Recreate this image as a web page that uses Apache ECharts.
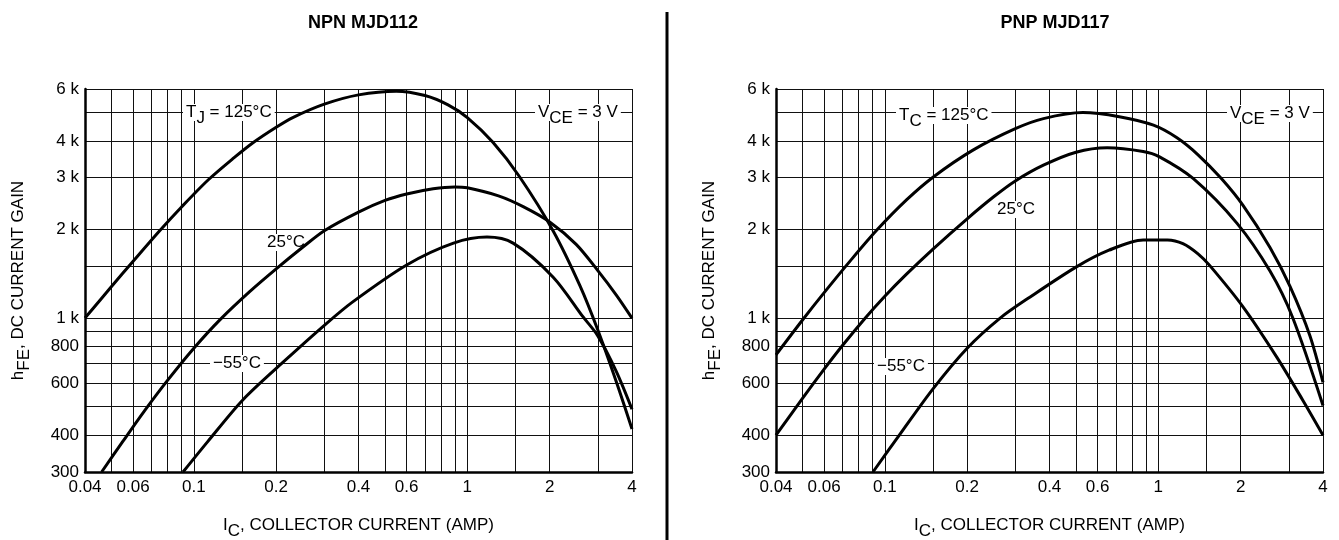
<!DOCTYPE html>
<html>
<head>
<meta charset="utf-8">
<script src="https://cdn.jsdelivr.net/npm/echarts@6/dist/echarts.min.js"></script>
<style>
html,body{margin:0;padding:0;background:#fff;}
#c{width:1339px;height:540px;}
</style>
</head>
<body>
<div id="c"></div>
<script>
// ---- data ----
const titles = ['NPN MJD112', 'PNP MJD117'];
const xTickLabels = [0.04, 0.06, 0.1, 0.2, 0.4, 0.6, 1, 2, 4];
const yTickLabels = [300, 400, 600, 800, 1000, 2000, 3000, 4000, 6000];
const xGrid = [0.04, 0.05, 0.06, 0.07, 0.08, 0.09, 0.1, 0.15, 0.2, 0.3, 0.4, 0.5, 0.6, 0.7, 0.8, 0.9, 1, 1.5, 2, 3, 4];
const yGrid = [300, 400, 500, 600, 700, 800, 900, 1000, 1500, 2000, 3000, 4000, 5000, 6000];

// NPN MJD112
const npn125X = [0.04, 0.05, 0.06, 0.075, 0.09, 0.113, 0.14, 0.165, 0.2, 0.23, 0.3, 0.4, 0.55, 0.7, 0.85, 1.0, 1.24, 1.55, 2.06, 2.58, 3.0, 3.5, 4];
const npn125Y = [1000, 1280, 1560, 1980, 2380, 2950, 3500, 3950, 4450, 4800, 5330, 5730, 5900, 5700, 5300, 4800, 3955, 3026, 1977, 1289, 911, 610, 420];
const npn25X = [0.046, 0.055, 0.066, 0.08, 0.1, 0.125, 0.16, 0.2, 0.25, 0.3, 0.4, 0.5, 0.6, 0.75, 0.9, 1.0, 1.3, 1.6, 2.0, 2.5, 3.0, 3.5, 4];
const npn25Y = [300, 381, 484, 613, 790, 990, 1230, 1470, 1740, 1980, 2290, 2510, 2640, 2750, 2790, 2770, 2600, 2390, 2120, 1780, 1450, 1200, 1000];
const npnM55X = [0.0913, 0.112, 0.151, 0.212, 0.3, 0.38, 0.6, 0.89, 1.18, 1.47, 2.06, 2.65, 3.0, 3.5, 4];
const npnM55Y = [300, 379, 527, 708, 945, 1133, 1515, 1797, 1884, 1797, 1377, 1009, 870, 660, 490];

// PNP MJD117
const pnp125X = [0.04, 0.05, 0.06, 0.075, 0.0935, 0.12, 0.15, 0.21, 0.3, 0.38, 0.53, 0.72, 0.96, 1.17, 1.4, 1.7, 2.04, 2.56, 3.03, 3.58, 4];
const pnp125Y = [750, 985, 1220, 1570, 1990, 2520, 3010, 3720, 4400, 4760, 4990, 4830, 4520, 4096, 3580, 2978, 2415, 1737, 1282, 873, 605];
const pnp25X = [0.04, 0.05, 0.06, 0.07, 0.085, 0.1, 0.12, 0.15, 0.2, 0.25, 0.3, 0.38, 0.5, 0.65, 0.88, 1.01, 1.34, 1.94, 2.56, 3.1, 4];
const pnp25Y = [400, 534, 671, 807, 1003, 1187, 1410, 1716, 2174, 2582, 2923, 3306, 3660, 3790, 3680, 3530, 2980, 2098, 1444, 1003, 505];
const pnpM55X = [0.0905, 0.114, 0.15, 0.2, 0.264, 0.34, 0.5, 0.66, 0.88, 1.08, 1.23, 1.4, 1.54, 2.04, 2.71, 3.37, 4];
const pnpM55Y = [300, 405, 575, 790, 1000, 1180, 1490, 1700, 1842, 1842, 1790, 1650, 1510, 1092, 737, 527, 400];

// ---- chart ----
const FONT = 'Liberation Sans, Arial, sans-serif';
const FS = 17;
const zip = (xs, ys) => xs.map((x, i) => [x, ys[i]]);
const rich = {
  n: {fontFamily: FONT, fontSize: FS, color: '#000', lineHeight: 17},
  s: {fontFamily: FONT, fontSize: FS, color: '#000', lineHeight: 17, padding: [12, 0, 0, 0]},
  p: {fontFamily: FONT, fontSize: FS, color: '#000', lineHeight: 17, padding: [6, 0, 6, 0]}
};

function xAxisDef(gi) {
  return {
    type: 'log', logBase: 10, gridIndex: gi, min: 0.04, max: 4,
    name: '{n|I}{s|C}{n|, COLLECTOR CURRENT (AMP)}',
    nameLocation: 'middle', nameGap: 45,
    nameTextStyle: {rich: rich},
    axisLine: {show: true, lineStyle: {color: '#000', width: 2.5}},
    axisTick: {show: false, customValues: xGrid},
    splitLine: {show: true, lineStyle: {color: '#111', width: 1}},
    axisLabel: {
      customValues: xTickLabels, margin: 7,
      fontFamily: FONT, fontSize: FS, color: '#000',
      formatter: v => String(+v.toPrecision(3))
    }
  };
}
function yAxisDef(gi) {
  return {
    type: 'log', logBase: 10, gridIndex: gi, min: 300, max: 6000,
    name: '{n|h}{s|FE}{n|, DC CURRENT GAIN}',
    nameLocation: 'middle', nameGap: 58,
    nameTextStyle: {rich: rich},
    axisLine: {show: true, lineStyle: {color: '#000', width: 2.5}},
    axisTick: {show: false, customValues: yGrid},
    splitLine: {show: true, lineStyle: {color: '#111', width: 1}},
    axisLabel: {
      customValues: yTickLabels, margin: 6,
      fontFamily: FONT, fontSize: FS, color: '#000',
      formatter: v => { v = Math.round(v); return v >= 1000 ? (v / 1000) + ' k' : String(v); }
    }
  };
}
function curve(xs, ys, gi) {
  return {
    type: 'line', xAxisIndex: gi, yAxisIndex: gi, z: 3,
    data: zip(xs, ys), showSymbol: false, smooth: 0.3,
    lineStyle: {color: '#000', width: 3}, silent: true, animation: false
  };
}
function lbl(x, y, text) {
  return {
    type: 'text', left: x, top: y, z: 1,
    style: {text: text, rich: rich, backgroundColor: '#fff', padding: [0, 3, 0, 3],
            font: FS + 'px ' + FONT, fill: '#000'}
  };
}

const chart = echarts.init(document.getElementById('c'), null, {renderer: 'canvas'});
chart.setOption({
  animation: false,
  backgroundColor: '#fff',
  title: [
    {text: titles[0], left: 358, top: 9, textAlign: 'center',
     textStyle: {fontFamily: FONT, fontSize: 18, fontWeight: 'bold', color: '#000'}},
    {text: titles[1], left: 1050, top: 9, textAlign: 'center',
     textStyle: {fontFamily: FONT, fontSize: 18, fontWeight: 'bold', color: '#000'}}
  ],
  grid: [
    {left: 85, right: 707, top: 89, bottom: 68, containLabel: false, outerBoundsMode: 'none'},
    {left: 776, right: 16, top: 89, bottom: 68, containLabel: false, outerBoundsMode: 'none'}
  ],
  xAxis: [xAxisDef(0), xAxisDef(1)],
  yAxis: [yAxisDef(0), yAxisDef(1)],
  series: [
    curve(npn125X, npn125Y, 0), curve(npn25X, npn25Y, 0), curve(npnM55X, npnM55Y, 0),
    curve(pnp125X, pnp125Y, 1), curve(pnp25X, pnp25Y, 1), curve(pnpM55X, pnpM55Y, 1)
  ],
  graphic: [
    {type: 'line', shape: {x1: 667, y1: 12, x2: 667, y2: 540}, style: {stroke: '#000', lineWidth: 3}},
    lbl(183, 98, '{n|T}{s|J}{n| = 125°C}'),
    lbl(264, 228, '{p|25°C}'),
    lbl(210, 349, '{p|−55°C}'),
    lbl(535, 98, '{n|V}{s|CE}{n| = 3 V}'),
    lbl(896, 101, '{n|T}{s|C}{n| = 125°C}'),
    lbl(994, 195, '{p|25°C}'),
    lbl(874, 352, '{p|−55°C}'),
    lbl(1227, 99, '{n|V}{s|CE}{n| = 3 V}')
  ]
});
</script>
</body>
</html>
